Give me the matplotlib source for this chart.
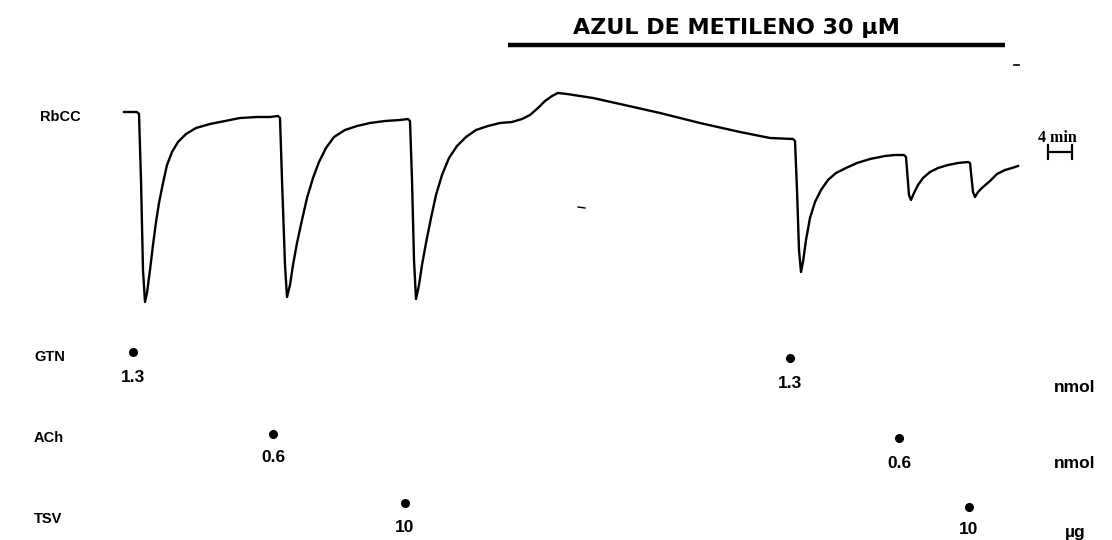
import matplotlib.pyplot as plt

# trace (x: time axis, y: tension, screen units, down = relaxation)
trace_t = [124, 137, 139, 141, 143, 145, 147, 150, 153, 156, 159, 163, 167, 172, 178, 186,
           196, 210, 225, 240, 257, 270, 278,
           280, 282, 285, 287, 290, 293, 297, 302, 307, 313, 319, 326, 334, 345, 357, 370,
           385, 400, 408,
           410, 412, 414, 416, 419, 422, 426, 431, 436, 442, 449, 457, 466, 476, 488, 500,
           512, 522, 530, 538, 545, 552, 558, 567, 580, 593, 620, 660, 700, 740, 770, 793,
           795, 797, 799, 801, 803, 806, 810, 815, 821, 828, 836, 846, 857, 870, 885, 895,
           904, 906, 909, 911, 914, 918, 923, 930, 938, 948, 958, 968,
           970, 973, 975, 978, 983, 990, 997, 1005, 1012, 1018]
trace_v = [112, 112, 114, 180, 270, 302, 293, 270, 245, 222, 203, 183, 165, 152, 142, 134,
           128, 124, 121, 118, 117, 117, 116,
           118, 180, 265, 297, 285, 265, 243, 220, 198, 178, 162, 148, 137, 130, 126, 123,
           121, 120, 119,
           121, 180, 260, 299, 285, 265, 243, 218, 195, 175, 158, 146, 137, 130, 126, 123,
           122, 119, 115, 108, 101, 96, 93, 94, 96, 98, 104, 113, 123, 132, 138, 139,
           141, 190, 250, 272, 262, 240, 218, 202, 190, 180, 173, 168, 163, 159, 156, 155,
           155, 157, 195, 200, 193, 185, 178, 172, 168, 165, 163, 162,
           163, 192, 197, 192, 187, 181, 174, 170, 168, 166]

drug_names = ['GTN', 'ACh', 'TSV']
drug_units = ['nmol', 'nmol', 'µg']
dose_t = [[133, 790], [273, 899], [405, 969]]
dose_vals = [['1.3', '1.3'], ['0.6', '0.6'], ['10', '10']]

bar_label = 'AZUL DE METILENO 30 µM'
bar_start, bar_end = 508, 1005

plt.rcParams['font.family'] = ['Liberation Sans', 'DejaVu Sans']

fig = plt.figure(figsize=(11.12, 5.4), dpi=100)
ax = fig.add_axes([0, 0, 1, 1])
ax.set_xlim(0, 1112)
ax.set_ylim(540, 0)
ax.axis('off')

ax.plot(trace_t, trace_v, color='black', lw=1.7, solid_joinstyle='round')

# methylene blue bar
ax.plot([bar_start, bar_end], [45, 45], color='black', lw=3.2, solid_capstyle='butt')
ax.text(736, 38, bar_label, ha='center', va='bottom', fontsize=16, fontweight='bold',
        family=['DejaVu Sans'])

ax.text(40, 117, 'RbCC', ha='left', va='center', fontsize=10.5, fontweight='bold')

# time scale bar
ax.text(1057, 146, '4 min', ha='center', va='bottom', fontsize=11.5, fontweight='bold',
        family=['Liberation Serif', 'DejaVu Serif'])
ax.plot([1048, 1072], [152, 152], color='black', lw=1.6)
ax.plot([1048, 1048], [145, 159], color='black', lw=1.6)
ax.plot([1072, 1072], [145, 159], color='black', lw=1.6)
ax.plot([1014, 1019], [65, 65], color='black', lw=1.2)
ax.plot([578, 585], [207, 208], color='black', lw=1.0)

label_y = [357, 438, 519]
dot_y = [[352, 358], [434, 438], [503, 507]]
val_y = [[377, 383], [458, 463], [527, 530]]
unit_y = [388, 464, 532]
for i, name in enumerate(drug_names):
    ax.text(34, label_y[i], name, ha='left', va='center', fontsize=10.5, fontweight='bold')
    for j, t in enumerate(dose_t[i]):
        ax.plot(t, dot_y[i][j], 'o', color='black', ms=5.5)
        ax.text(t, val_y[i][j], dose_vals[i][j], ha='center', va='center',
                fontsize=12.5, fontweight='bold')
    ax.text(1075, unit_y[i], drug_units[i], ha='center', va='center',
            fontsize=12.5, fontweight='bold')

fig.savefig('out.png', dpi=100, facecolor='white')
